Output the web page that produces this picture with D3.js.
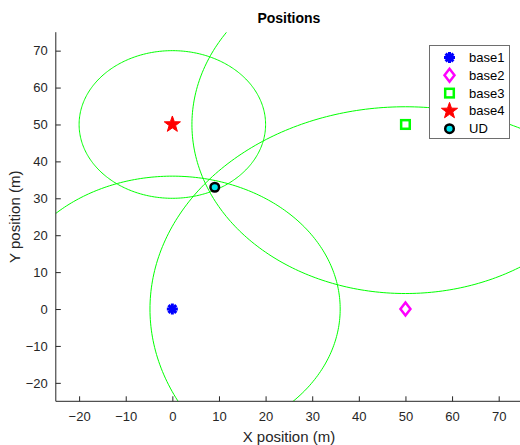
<!DOCTYPE html>
<html><head><meta charset="utf-8">
<script src="https://cdn.jsdelivr.net/npm/d3@7"></script>
<style>body{margin:0;background:#fff;}svg{display:block;font-family:"Liberation Sans",Arial,Helvetica,sans-serif;}</style>
</head><body><svg id="c" width="520" height="445"></svg>
<script>
const baseNames = ["base1","base2","base3","base4"];
const baseX = [0, 50, 50, 0];
const baseY = [0, 0, 50, 50];
const ranges = [36, 54.8, 45.8, 20];
const udPos = [9.1, 33];
const xTicks = [-20,-10,0,10,20,30,40,50,60,70];
const yTicks = [-20,-10,0,10,20,30,40,50,60,70];

const svg = d3.select("#c");
const W=520,H=445;
svg.append("rect").attr("width",W).attr("height",H).attr("fill","#fff");
const x = d3.scaleLinear().domain([-25,75]).range([55.8,522]);
const y = d3.scaleLinear().domain([-25,75]).range([401.3,32.2]);
const axCol = "#262626";

svg.append("defs").append("clipPath").attr("id","pc").append("rect")
  .attr("x",x(-25)).attr("y",y(75)).attr("width",x(75)-x(-25)).attr("height",y(-25)-y(75));

// circles
const cg = svg.append("g").attr("clip-path","url(#pc)");
baseX.forEach((bx,i)=>{
  const pts = d3.range(0,361).map(a=>[bx+ranges[i]*Math.cos(a*Math.PI/180), baseY[i]+ranges[i]*Math.sin(a*Math.PI/180)]);
  cg.append("path").attr("d", d3.line().x(d=>x(d[0])).y(d=>y(d[1]))(pts))
    .attr("fill","none").attr("stroke","#00ff00").attr("stroke-width",1);
});

// axes
const xa = svg.append("g").attr("transform",`translate(0,${y(-25)})`)
  .call(d3.axisBottom(x).tickValues(xTicks).tickSize(-5).tickPadding(10).tickFormat(d3.format("d")));
const ya = svg.append("g").attr("transform",`translate(${x(-25)},0)`)
  .call(d3.axisLeft(y).tickValues(yTicks).tickSize(-5).tickPadding(8).tickFormat(d3.format("d")));
[xa,ya].forEach(a=>{
  a.select(".domain").attr("stroke",axCol).attr("d", null);
  a.selectAll(".tick line").attr("stroke",axCol);
  a.selectAll(".tick text").attr("fill",axCol).attr("font-size",13).attr("font-family","Liberation Sans, Arial, sans-serif");
});
xa.select(".domain").attr("d",`M${x(-25)},0H${x(75)}`);
ya.select(".domain").attr("d",`M0,${y(-25)}V${y(75)}`);

// marker drawing
function drawMarker(g, kind, cx, cy){
  if(kind===0){ // asterisk
    const r=5.5;
    [0,45,90,135].forEach(a=>{
      const dx=r*Math.cos(a*Math.PI/180), dy=r*Math.sin(a*Math.PI/180);
      g.append("line").attr("x1",cx-dx).attr("y1",cy-dy).attr("x2",cx+dx).attr("y2",cy+dy)
        .attr("stroke","#0000ff").attr("stroke-width",3);
    });
  } else if(kind===1){ // diamond
    g.append("path").attr("d",`M${cx},${cy-6.5}L${cx+5},${cy}L${cx},${cy+6.5}L${cx-5},${cy}Z`)
      .attr("fill","none").attr("stroke","#ff00ff").attr("stroke-width",2.5);
  } else if(kind===2){ // square
    g.append("rect").attr("x",cx-4.3).attr("y",cy-4.3).attr("width",8.6).attr("height",8.6)
      .attr("fill","none").attr("stroke","#00ff00").attr("stroke-width",2.5);
  } else if(kind===3){ // pentagram
    const pts=[];
    for(let k=0;k<10;k++){
      const rr = k%2===0?8.5:3.4;
      const a = -Math.PI/2 + k*Math.PI/5;
      pts.push([cx+rr*Math.cos(a), cy+rr*Math.sin(a)]);
    }
    g.append("path").attr("d","M"+pts.map(p=>p.join(",")).join("L")+"Z")
      .attr("fill","#ff0000").attr("stroke","#ff0000").attr("stroke-width",1);
  } else { // UD
    g.append("circle").attr("cx",cx).attr("cy",cy).attr("r",4.3)
      .attr("fill","#00e5ee").attr("stroke","#000").attr("stroke-width",2.5);
  }
}
const mg = svg.append("g");
baseX.forEach((bx,i)=>drawMarker(mg,i,x(bx),y(baseY[i])));
drawMarker(mg,4,x(udPos[0]),y(udPos[1]));

// legend
const names = baseNames.concat(["UD"]);
const lg = svg.append("g");
lg.append("rect").attr("x",429.5).attr("y",45.5).attr("width",80).attr("height",93)
  .attr("fill","#fff").attr("stroke","#6e6e6e").attr("stroke-width",1);
names.forEach((n,i)=>{
  const yy = 57.5 + i*17.8;
  drawMarker(lg,i,449.5,yy);
  lg.append("text").attr("x",469).attr("y",yy).attr("dy","0.35em").attr("font-size",13).attr("fill","#000").text(n);
});

// title and labels
svg.append("text").attr("x",(x(-25)+x(75))/2).attr("y",23).attr("text-anchor","middle")
  .attr("font-weight","bold").attr("font-size",14).attr("fill","#000").text("Positions");
svg.append("text").attr("x",(x(-25)+x(75))/2).attr("y",442).attr("text-anchor","middle")
  .attr("font-size",15).attr("fill",axCol).text("X position (m)");
svg.append("text").attr("transform",`translate(20,${(y(-25)+y(75))/2}) rotate(-90)`).attr("text-anchor","middle")
  .attr("font-size",15).attr("fill",axCol).text("Y position (m)");
</script></body></html>
